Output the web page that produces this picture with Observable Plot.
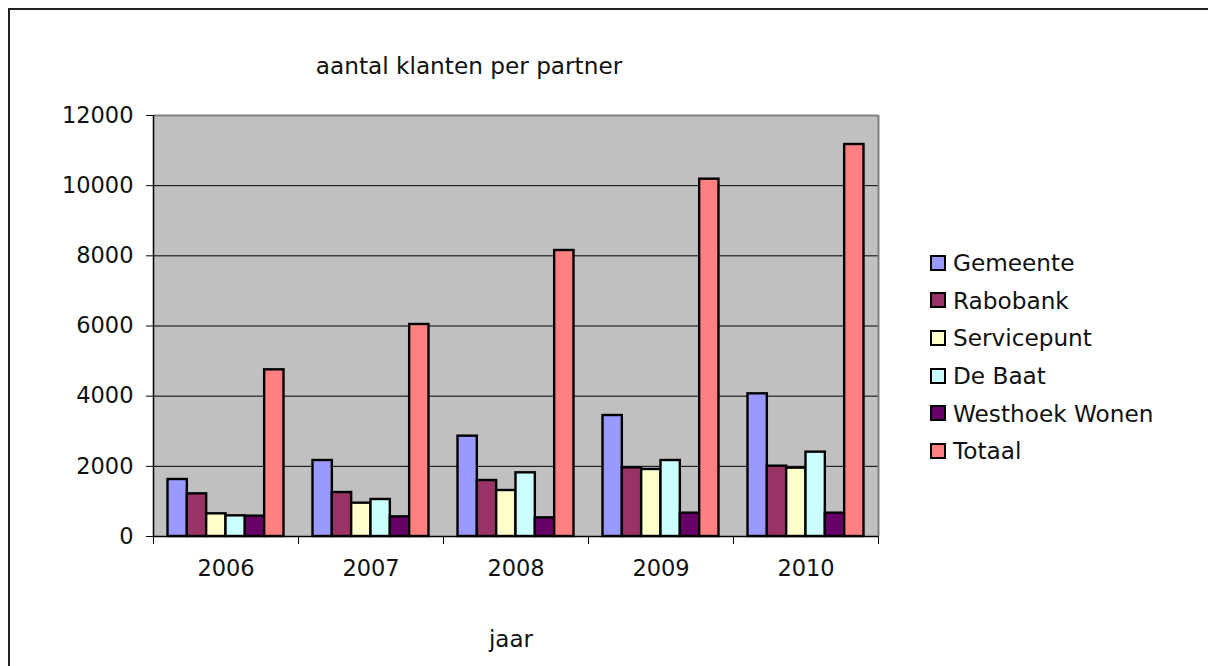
<!DOCTYPE html>
<html>
<head>
<meta charset="utf-8">
<script src="https://cdn.jsdelivr.net/npm/d3@7"></script>
<script src="https://cdn.jsdelivr.net/npm/@observablehq/plot@0.6"></script>
<style>
  body { margin: 0; background: #fff; font-family: "DejaVu Sans", Verdana, sans-serif; }
  #wrap { position: relative; width: 1208px; height: 666px; overflow: hidden; }
  #border { position: absolute; left: 8px; top: 8px; width: 1300px; height: 800px; border: 2px solid #222; box-sizing: border-box; }
  #chart { position: absolute; left: 0; top: 0; }
  #title { position: absolute; left: 469px; top: 52px; transform: translateX(-50%); font-size: 23.2px; white-space: nowrap; color: #111; }
  #xlabel { position: absolute; left: 511px; top: 626px; transform: translateX(-50%); font-size: 23px; color: #111; }
  #legend { position: absolute; left: 930px; top: 244px; font-size: 23.2px; color: #111; }
  .item { height: 37.6px; display: flex; align-items: center; white-space: nowrap; }
  .sw { width: 16px; height: 16px; border: 2px solid #000; box-sizing: border-box; margin-right: 7px; }
</style>
</head>
<body>
<div id="wrap">
  <div id="border"></div>
  <div id="chart"></div>
  <div id="title">aantal klanten per partner</div>
  <div id="xlabel">jaar</div>
  <div id="legend"></div>
</div>
<script>
const years = ["2006", "2007", "2008", "2009", "2010"];
const seriesNames = ["Gemeente", "Rabobank", "Servicepunt", "De Baat", "Westhoek Wonen", "Totaal"];
const seriesColors = ["#9999FF", "#993366", "#FFFFCC", "#CCFFFF", "#660066", "#FF8080"];
const gemeente    = [1625, 2166, 2860, 3449, 4067];
const rabobank    = [1216, 1254, 1596, 1957, 2005];
const servicepunt = [646, 950, 1311, 1910, 1948];
const deBaat      = [589, 1055, 1815, 2166, 2404];
const westhoek    = [580, 560, 532, 665, 665];
const totaal      = [4751, 6043, 8152, 10185, 11173];
const yTicks = [0, 2000, 4000, 6000, 8000, 10000, 12000];

const seriesValues = [gemeente, rabobank, servicepunt, deBaat, westhoek, totaal];
const rows = years.flatMap((year, gi) =>
  seriesNames.map((name, si) => ({year, gi, series: name, si, value: seriesValues[si][gi]}))
);

// grouped layout: 6 bars per group with 0.75 bar-width outer padding each side
const slots = seriesNames.length + 1.5;
const chart = Plot.plot({
  width: 1208,
  height: 666,
  marginLeft: 153,
  marginRight: 330,
  marginTop: 115,
  marginBottom: 130,
  style: {background: "none", fontFamily: "'DejaVu Sans', Verdana, sans-serif", fontSize: "22.5px", color: "#111", overflow: "visible"},
  x: {domain: [0, years.length], axis: null},
  y: {domain: [0, 12000], axis: null},
  color: {domain: seriesNames, range: seriesColors},
  marks: [
    Plot.frame({fill: "#C0C0C0", stroke: "none"}),
    Plot.ruleY(yTicks.slice(1, -1), {stroke: "#000", strokeWidth: 1}),
    Plot.ruleY([12000], {stroke: "#808080", strokeWidth: 2}),
    Plot.ruleX([years.length], {stroke: "#808080", strokeWidth: 2}),
    Plot.rectY(rows, {
      x1: d => d.gi + (0.75 + d.si) / slots,
      x2: d => d.gi + (1.75 + d.si) / slots,
      y: "value",
      fill: "series",
      stroke: "#000",
      strokeWidth: 2.4
    }),
    Plot.ruleX([0], {stroke: "#000", strokeWidth: 1.5}),
    Plot.ruleY([0], {stroke: "#000", strokeWidth: 1.5}),
    Plot.axisY({ticks: yTicks, tickSize: 7, tickPadding: 13, tickFormat: d => String(d), stroke: "#000", label: null}),
    Plot.axisX({ticks: d3.range(years.length + 1), tickSize: 8, tickFormat: () => "", stroke: "#000", label: null}),
    Plot.axisX({ticks: years.map((_, i) => i + 0.5), tickSize: 0, tickPadding: 24, tickFormat: i => years[Math.floor(i)], label: null})
  ]
});
document.getElementById("chart").append(chart);

const legend = document.getElementById("legend");
seriesNames.forEach((name, i) => {
  const item = document.createElement("div");
  item.className = "item";
  const sw = document.createElement("span");
  sw.className = "sw";
  sw.style.background = seriesColors[i];
  const label = document.createElement("span");
  label.textContent = name;
  item.append(sw, label);
  legend.append(item);
});
</script>
</body>
</html>
